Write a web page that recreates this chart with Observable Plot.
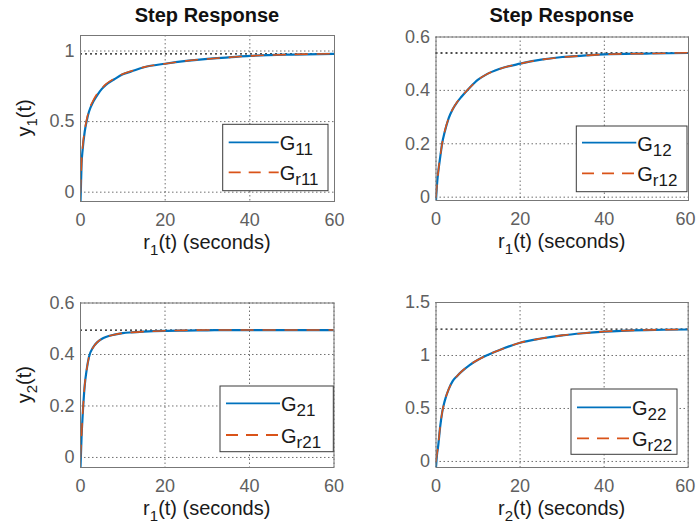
<!DOCTYPE html>
<html><head><meta charset="utf-8">
<script src="https://cdn.jsdelivr.net/npm/d3@7"></script>
<script src="https://cdn.jsdelivr.net/npm/@observablehq/plot@0.6"></script>
<style>
html,body{margin:0;padding:0;background:#fff;}
#chart{position:relative;width:697px;height:530px;overflow:hidden;font-family:"Liberation Sans",Arial,sans-serif;}
#chart svg{position:absolute;}
</style></head><body><div id="chart"></div>
<script>
// time samples (seconds)
const time = [0, 0.25, 0.5, 1, 1.5, 2, 3, 4, 5, 6, 8, 10, 12, 15, 20, 25, 30, 35, 40, 50, 60];
// step responses
const g11  = [-0.066, 0.20, 0.30, 0.43, 0.51, 0.57, 0.64, 0.69, 0.73, 0.76, 0.80, 0.835, 0.855, 0.885, 0.91, 0.93, 0.945, 0.955, 0.965, 0.975, 0.98];
const gr11 = [0, 0.21, 0.32, 0.44, 0.52, 0.58, 0.65, 0.70, 0.735, 0.765, 0.805, 0.837, 0.858, 0.886, 0.91, 0.93, 0.944, 0.955, 0.965, 0.976, 0.981];
const g12  = [-0.0125, 0.05, 0.09, 0.15, 0.205, 0.24, 0.295, 0.33, 0.355, 0.375, 0.41, 0.44, 0.46, 0.48, 0.50, 0.515, 0.525, 0.53, 0.535, 0.538, 0.54];
const gr12 = [0, 0.05, 0.09, 0.152, 0.205, 0.242, 0.296, 0.331, 0.356, 0.376, 0.41, 0.44, 0.46, 0.48, 0.50, 0.515, 0.524, 0.53, 0.535, 0.538, 0.541];
const g21  = [-0.039, 0.08, 0.16, 0.28, 0.345, 0.39, 0.428, 0.448, 0.46, 0.468, 0.477, 0.483, 0.486, 0.489, 0.492, 0.493, 0.494, 0.495, 0.495, 0.495, 0.495];
const gr21 = [0, 0.085, 0.165, 0.282, 0.345, 0.39, 0.428, 0.448, 0.46, 0.468, 0.477, 0.483, 0.486, 0.489, 0.492, 0.494, 0.495, 0.495, 0.495, 0.495, 0.495];
const g22  = [-0.057, 0.07, 0.14, 0.33, 0.47, 0.56, 0.68, 0.76, 0.805, 0.845, 0.91, 0.96, 1.0, 1.05, 1.12, 1.16, 1.19, 1.21, 1.225, 1.24, 1.245];
const gr22 = [0, 0.075, 0.145, 0.335, 0.47, 0.56, 0.68, 0.76, 0.806, 0.846, 0.91, 0.96, 1.0, 1.05, 1.12, 1.16, 1.19, 1.21, 1.226, 1.24, 1.246];
// steady-state values (dotted black lines)
const finalValues = [0.98, 0.54, 0.495, 1.248];
// axis ticks
const xTicks = [0, 20, 40, 60];
const yTicks11 = [0, 0.5, 1];
const yTicks12 = [0, 0.2, 0.4, 0.6];
const yTicks21 = [0, 0.2, 0.4, 0.6];
const yTicks22 = [0, 0.5, 1, 1.5];
const yDomains = [[-0.066, 1.11], [-0.0125, 0.6], [-0.039, 0.6], [-0.057, 1.5]];
// text
const titles = ["Step Response", "Step Response", null, null];
const xSubs = ["1", "1", "1", "2"];
const ySubs = ["1", null, "2", null];
const legendSubs = [["11", "r11"], ["12", "r12"], ["21", "r21"], ["22", "r22"]];

const panels = [
  {left: 0, top: 0, w: 348, h: 265, ml: 80, mr: 14, mt: 35, mb: 64, blue: g11, orange: gr11, yTicks: yTicks11,
   lg: {x: 222.7, y: 124.3, w: 105.3, h: 66.4, l1: 6, l2: 56, r1: 18, r2: 48}},
  {left: 348, top: 0, w: 349, h: 265, ml: 87.5, mr: 9, mt: 36.5, mb: 65, blue: g12, orange: gr12, yTicks: yTicks12,
   lg: {x: 228.3, y: 126, w: 110.7, h: 65.7, l1: 5.7, l2: 60, r1: 16.7, r2: 47.3}},
  {left: 0, top: 265, w: 348, h: 265, ml: 80, mr: 14.5, mt: 37.5, mb: 63, blue: g21, orange: gr21, yTicks: yTicks21,
   lg: {x: 220, y: 121, w: 113.3, h: 65.7, l1: 6, l2: 60, r1: 17.3, r2: 49}},
  {left: 348, top: 265, w: 349, h: 265, ml: 87.5, mr: 9.3, mt: 37, mb: 63, blue: g22, orange: gr22, yTicks: yTicks22,
   lg: {x: 223, y: 124, w: 106, h: 65.3, l1: 6, l2: 60, r1: 18.3, r2: 49.3}}
];

const BLUE = "#0072BD", ORANGE = "#D95319";
const chart = document.getElementById("chart");

panels.forEach((p, k) => {
  const rows = time.map((t, i) => ({t, b: p.blue[i], o: p.orange[i]}));
  const svg = Plot.plot({
    width: p.w, height: p.h,
    marginLeft: p.ml, marginRight: p.mr, marginTop: p.mt, marginBottom: p.mb,
    style: {fontFamily: "'Liberation Sans', Arial, sans-serif", fontSize: "18px", color: "#606060", background: "transparent", overflow: "visible"},
    x: {domain: [0, 60], ticks: xTicks, tickFormat: "~g", label: null, tickSize: 0, tickPadding: 12},
    y: {domain: yDomains[k], ticks: p.yTicks, tickFormat: "~g", label: null, tickSize: 0, tickPadding: 6},
    marks: [
      Plot.gridX(xTicks, {stroke: "#333", strokeOpacity: 0.7, strokeDasharray: "1.5,2.5"}),
      Plot.gridY(p.yTicks, {stroke: "#333", strokeOpacity: 0.7, strokeDasharray: "1.5,2.5"}),
      Plot.ruleY([finalValues[k]], {x1: 0, x2: 60, stroke: "#111", strokeWidth: 1.3, strokeDasharray: "2,3"}),
      Plot.line(rows, {x: "t", y: "b", stroke: BLUE, strokeWidth: 2.2, curve: "monotone-x", clip: true}),
      Plot.line(rows, {x: "t", y: "o", stroke: ORANGE, strokeWidth: 1.6, strokeDasharray: "12,10", curve: "monotone-x", clip: true}),
      Plot.frame({stroke: "#777"})
    ]
  });
  svg.style.left = p.left + "px";
  svg.style.top = p.top + "px";
  chart.appendChild(svg);

  const g = d3.select(svg);
  const cx = (p.ml + p.w - p.mr) / 2;
  const fb = p.h - p.mb;
  const cy = (p.mt + fb) / 2;

  // keep the last x tick label of the right-hand panels inside the page
  if (p.left > 0) {
    g.selectAll("text").filter(function() { return this.textContent === "60"; }).attr("dx", -3);
  }

  if (titles[k]) {
    g.append("text").attr("x", cx).attr("y", 22).attr("text-anchor", "middle")
      .attr("font-size", 20).attr("font-weight", "bold").attr("fill", "#111").text(titles[k]);
  }
  // x label
  const xl = g.append("text").attr("x", cx).attr("y", fb + 48).attr("text-anchor", "middle")
    .attr("font-size", 20).attr("fill", "#1a1a1a");
  xl.append("tspan").text("r");
  xl.append("tspan").attr("font-size", 15).attr("dy", 6).text(xSubs[k]);
  xl.append("tspan").attr("dy", -6).text("(t) (seconds)");
  // y label
  if (ySubs[k]) {
    const yl = g.append("text").attr("transform", `translate(31,${cy}) rotate(-90)`).attr("text-anchor", "middle")
      .attr("font-size", 20).attr("fill", "#1a1a1a");
    yl.append("tspan").text("y");
    yl.append("tspan").attr("font-size", 15).attr("dy", 6).text(ySubs[k]);
    yl.append("tspan").attr("dy", -6).text("(t)");
  }
  // legend
  const L = p.lg;
  const lg = g.append("g").attr("transform", `translate(${L.x},${L.y})`);
  lg.append("rect").attr("width", L.w).attr("height", L.h).attr("fill", "#fff").attr("stroke", "#3a3a3a").attr("stroke-width", 1);
  const items = [{c: BLUE, d: null, r: L.r1, s: legendSubs[k][0]}, {c: ORANGE, d: "12,8", r: L.r2, s: legendSubs[k][1]}];
  items.forEach(it => {
    lg.append("line").attr("x1", L.l1).attr("x2", L.l2).attr("y1", it.r).attr("y2", it.r)
      .attr("stroke", it.c).attr("stroke-width", 1.8).attr("stroke-dasharray", it.d);
    const tx = lg.append("text").attr("x", L.l2 + 1).attr("y", it.r + 8).attr("text-anchor", "start")
      .attr("font-size", 20).attr("fill", "#1a1a1a");
    tx.append("tspan").text("G");
    tx.append("tspan").attr("font-size", 17).attr("dy", 5).text(it.s);
  });
});
</script></body></html>
